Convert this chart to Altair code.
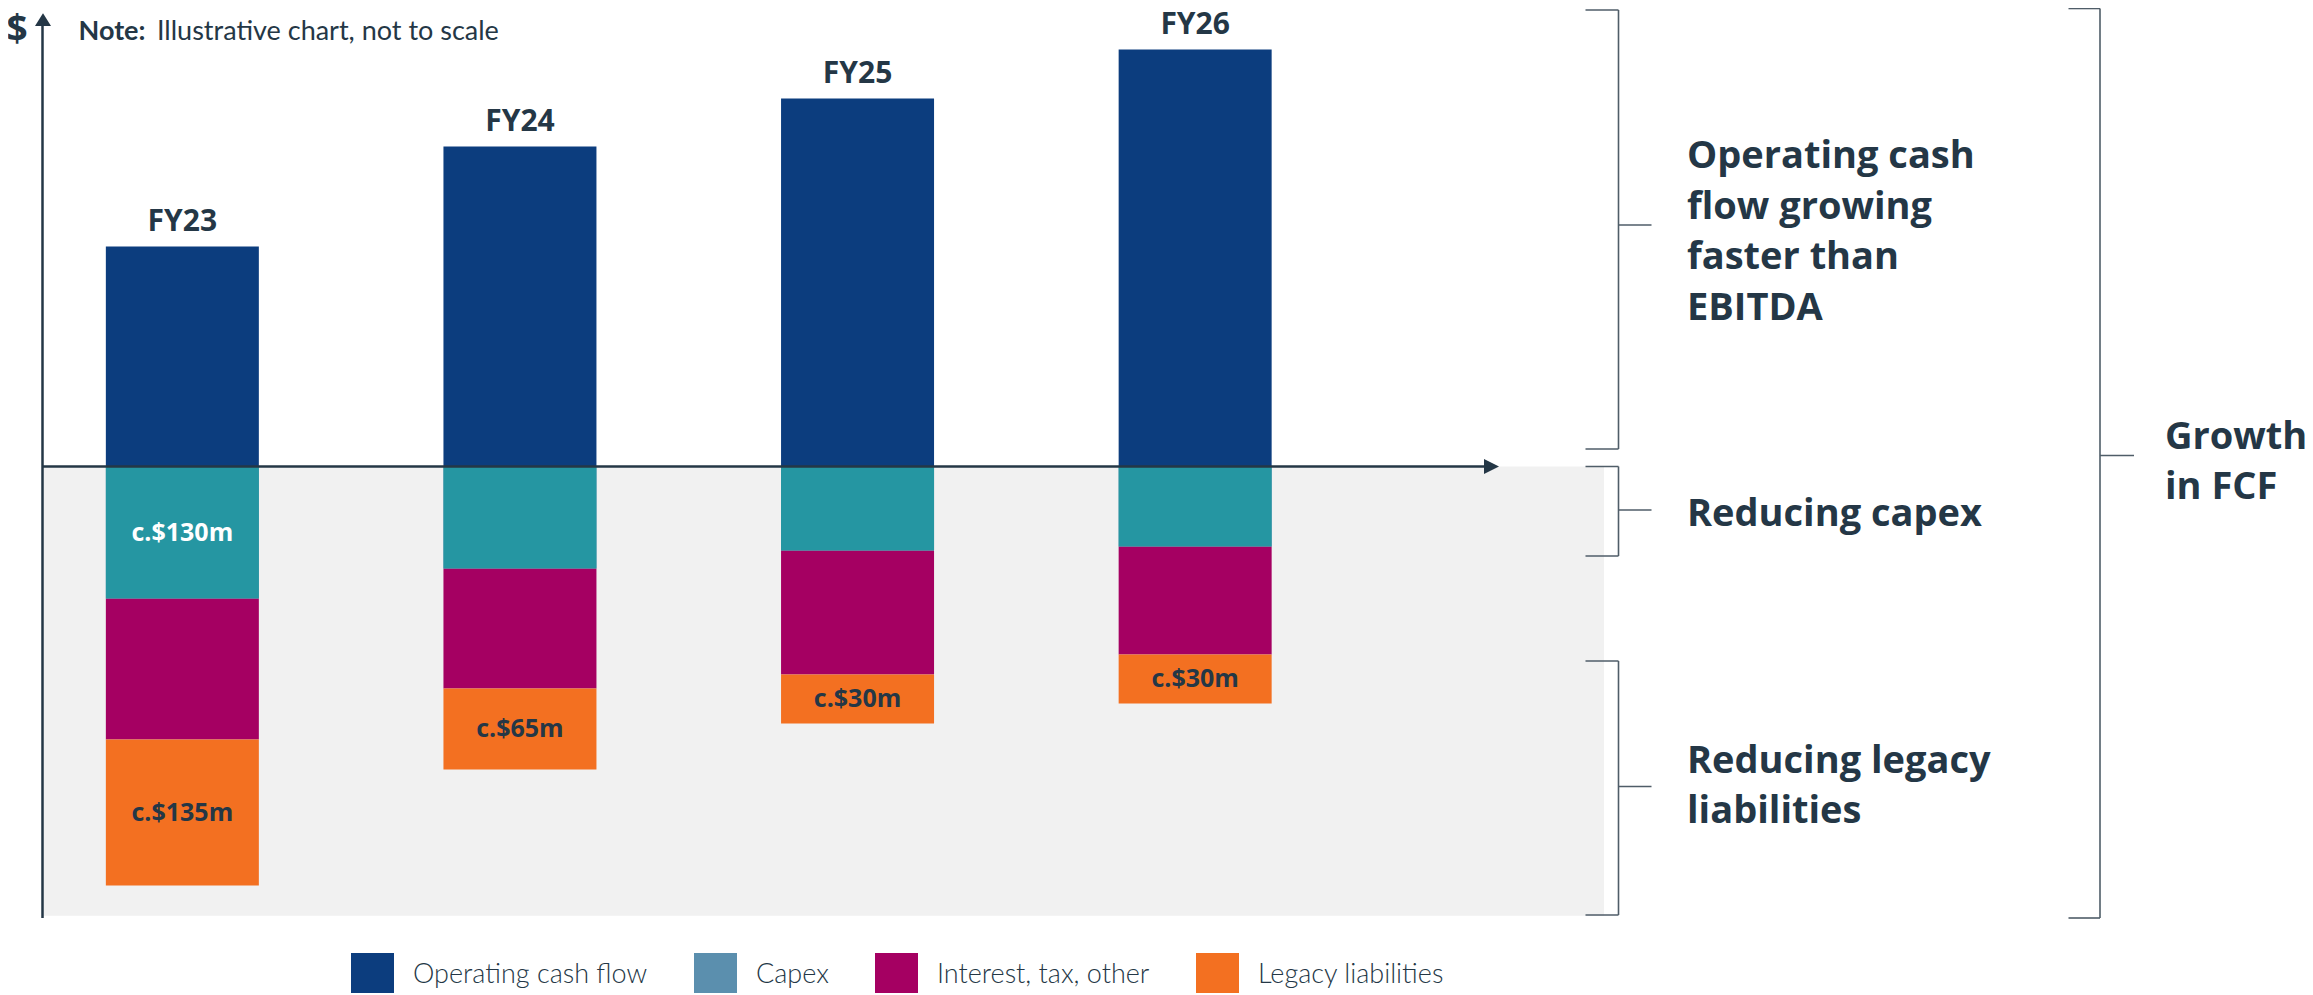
import altair as alt
import pandas as pd

# ---------------- data (illustrative, not to scale) ----------------
years = ["FY23", "FY24", "FY25", "FY26"]
categories = ["Operating cash flow", "Capex", "Interest, tax, other", "Legacy liabilities"]
operating_cash_flow = [220, 320, 368, 417]
capex = [132, 102, 84, 80]
interest_tax_other = [141, 120, 124, 108]
legacy_liabilities = [146, 81, 49, 49]
capex_labels = ["c.$130m", "", "", ""]
legacy_labels = ["c.$135m", "c.$65m", "c.$30m", "c.$30m"]

legend_colors = ["#0c3d7e", "#5b8fae", "#a50062", "#f37021"]
CAPEX_BAR = "#2596a2"
INK = "#243746"
BRACKET = "#4f5d68"
BOLD = "Open Sans"
LIGHT = "Lato"

rows = []
for i, yr in enumerate(years):
    c, it, lg = capex[i], interest_tax_other[i], legacy_liabilities[i]
    rows.append(dict(year=yr, category=categories[0], start=0, end=operating_cash_flow[i], label=""))
    rows.append(dict(year=yr, category=categories[1], start=0, end=-c, label=capex_labels[i]))
    rows.append(dict(year=yr, category=categories[2], start=-c, end=-c - it, label=""))
    rows.append(dict(year=yr, category=categories[3], start=-c - it, end=-c - it - lg, label=legacy_labels[i]))
df = pd.DataFrame(rows)
df["mid"] = (df["start"] + df["end"]) / 2

one = pd.DataFrame({"k": [0]})

y_scale = alt.Scale(domain=[-526.5, 458.5], nice=False, zero=False)
x_enc = alt.X(
    "year:N",
    sort=years,
    scale=alt.Scale(domain=years, range=[97.85, 1263.65], paddingInner=0.5468, paddingOuter=0),
    axis=None,
)

base = alt.Chart(df)

# grey shaded area below zero
shade = alt.Chart(one).mark_rect(color="#f1f1f1").encode(
    x=alt.value(35), x2=alt.value(1596),
    y=alt.Y(datum=0, scale=y_scale, axis=None), y2=alt.datum(-449.3),
)

bars = base.mark_bar().encode(
    x=x_enc,
    y=alt.Y("start:Q", scale=y_scale, axis=None),
    y2="end:Q",
    color=alt.Color(
        "category:N",
        scale=alt.Scale(domain=categories, range=legend_colors),
        legend=alt.Legend(
            orient="none", legendX=343, legendY=945, direction="horizontal",
            title=None, symbolType="square", symbolSize=1849, symbolStrokeWidth=0,
            symbolOpacity=1, labelFont=LIGHT, labelFontSize=27, labelFontWeight=300,
            labelColor=INK, labelOffset=19, columnPadding=46, labelLimit=500, padding=0,
        ),
    ),
)

capex_overlay = base.transform_filter(alt.datum.category == "Capex").mark_bar(color=CAPEX_BAR).encode(
    x=x_enc, y=alt.Y("start:Q", scale=y_scale, axis=None), y2="end:Q"
)

seg_labels = base.transform_filter(alt.datum.label != "").mark_text(
    font=BOLD, fontWeight="bold", fontSize=25, baseline="middle"
).encode(
    x=x_enc,
    y=alt.Y("mid:Q", scale=y_scale, axis=None),
    text="label:N",
    color=alt.condition(alt.datum.category == "Capex", alt.value("white"), alt.value(INK)),
)

year_labels = base.transform_filter(alt.datum.category == "Operating cash flow").mark_text(
    font=BOLD, fontWeight="bold", fontSize=30, baseline="alphabetic", dy=-16, color=INK
).encode(
    x=x_enc, y=alt.Y("end:Q", scale=y_scale, axis=None), text="year:N"
)

# axes with arrows
y_axis_line = alt.Chart(one).mark_rule(color=INK, strokeWidth=2.5).encode(
    x=alt.value(34.5), y=alt.datum(441), y2=alt.datum(-451.5)
)
x_axis_line = alt.Chart(one).mark_rule(color=INK, strokeWidth=2.5).encode(
    x=alt.value(35), x2=alt.value(1478), y=alt.datum(0)
)
y_arrow = alt.Chart(one).mark_point(
    shape="M-1,0L1,0L0,-1.6Z", filled=True, size=256, color=INK, opacity=1, strokeWidth=0
).encode(x=alt.value(35), y=alt.datum(440.5))
x_arrow = alt.Chart(one).mark_point(
    shape="M0,-1L0,1L2,0Z", filled=True, size=225, color=INK, opacity=1, strokeWidth=0
).encode(x=alt.value(1476), y=alt.datum(0))

dollar = alt.Chart(one).mark_text(
    text="$", font=BOLD, fontWeight="bold", fontSize=37, color=INK, align="center", baseline="alphabetic"
).encode(x=alt.value(9), y=alt.datum(425))
note_bold = alt.Chart(one).mark_text(
    text="Note:", font=LIGHT, fontWeight="bold", fontSize=27, color=INK, align="left", baseline="alphabetic"
).encode(x=alt.value(70.5), y=alt.datum(427))
note_rest = alt.Chart(one).mark_text(
    text="Illustrative chart, not to scale", font=LIGHT, fontSize=27, color=INK, align="left",
    baseline="alphabetic"
).encode(x=alt.value(149), y=alt.datum(427))


def bracket(x_left, x_right, x_tick, y_top, y_bot, y_mid):
    mk = alt.Chart(one).mark_rule(color=BRACKET, strokeWidth=1.6)
    return [
        mk.encode(x=alt.value(x_left), x2=alt.value(x_right), y=alt.datum(y_top)),
        mk.encode(x=alt.value(x_left), x2=alt.value(x_right), y=alt.datum(y_bot)),
        mk.encode(x=alt.value(x_right), y=alt.datum(y_top), y2=alt.datum(y_bot)),
        mk.encode(x=alt.value(x_right), x2=alt.value(x_tick), y=alt.datum(y_mid)),
    ]


brackets = (
    bracket(1577.5, 1610.5, 1643.5, 456.5, 17.5, 241.5)
    + bracket(1577.5, 1610.5, 1643.5, 0, -89.5, -43.5)
    + bracket(1577.5, 1610.5, 1643.5, -194.5, -448.5, -320)
    + bracket(2060.5, 2092, 2126, 458, -451.5, 11)
)


def note_text(lines, x, y_first, lh=50.5):
    return alt.Chart(one).mark_text(
        text=lines, font=BOLD, fontWeight="bold", fontSize=38, color=INK,
        align="left", baseline="middle", lineHeight=lh,
    ).encode(x=alt.value(x), y=alt.datum(y_first))


annotations = [
    note_text(["Operating cash", "flow growing", "faster than", "EBITDA"], 1679, 309.5),
    note_text(["Reducing capex"], 1679, -48.5),
    note_text(["Reducing legacy", "liabilities"], 1679, -295),
    note_text(["Growth", "in FCF"], 2157, 28.8, 50),
]

chart = alt.layer(
    shade, bars, capex_overlay, seg_labels, year_labels,
    y_axis_line, x_axis_line, y_arrow, x_arrow, dollar, note_bold, note_rest,
    *brackets, *annotations,
).properties(
    width=2297, height=985, padding=0, autosize=alt.AutoSizeParams(type="none")
).configure_view(strokeWidth=0)

chart.save("out.html", embed_options={"renderer": "svg", "actions": False})
